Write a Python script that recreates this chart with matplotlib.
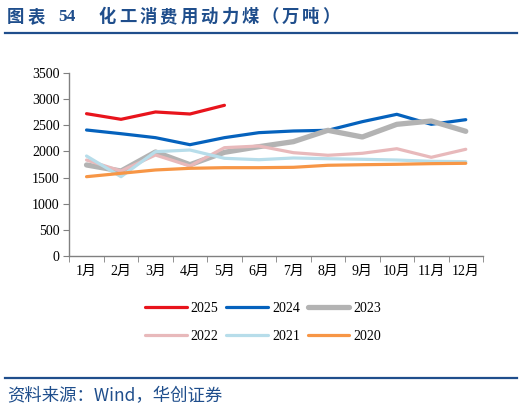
import matplotlib
matplotlib.use("Agg")
import matplotlib.pyplot as plt
from matplotlib.lines import Line2D

# 化工消费用动力煤（万吨）, monthly values
months = ["1月", "2月", "3月", "4月", "5月", "6月", "7月", "8月", "9月", "10月", "11月", "12月"]
y2025 = [2725, 2617, 2758, 2719, 2886]
y2024 = [2412, 2341, 2265, 2130, 2265, 2361, 2393, 2406, 2572, 2713, 2521, 2610]
y2023 = [1741, 1625, 1990, 1746, 1984, 2092, 2188, 2406, 2278, 2521, 2585, 2387]
y2022 = [1836, 1625, 1932, 1721, 2073, 2105, 1977, 1927, 1965, 2053, 1888, 2042]
y2021 = [1913, 1516, 1996, 2028, 1869, 1842, 1875, 1861, 1850, 1836, 1811, 1804]
y2020 = [1516, 1581, 1645, 1677, 1689, 1689, 1696, 1735, 1746, 1754, 1766, 1773]

series = [
    ("2025", y2025, "#E8141C", 2.3),
    ("2024", y2024, "#0562BD", 2.3),
    ("2023", y2023, "#B3B3B3", 3.8),
    ("2022", y2022, "#E8B9BB", 2.3),
    ("2021", y2021, "#B7DDEA", 2.3),
    ("2020", y2020, "#F79646", 2.3),
]

serif = ["Liberation Serif", "Noto Sans CJK SC"]
cjk = ["Noto Sans CJK SC", "DejaVu Sans"]
navy = "#1F4E8C"

fig = plt.figure(figsize=(5.24, 4.13), dpi=100)
ax = fig.add_axes([69.3 / 524, 1 - 255.7 / 413, (483 - 69.3) / 524, (255.7 - 73.3) / 413])

for i, (name, vals, color, lw) in enumerate(series):
    ax.plot(range(len(vals)), vals, color=color, lw=lw, solid_capstyle="round",
            solid_joinstyle="round", zorder=2 + i)

ax.set_xlim(-0.5, 11.5)
ax.set_ylim(0, 3500)
ax.set_yticks(range(0, 3501, 500))
ax.set_xticks(range(12))
ax.set_xticklabels(months)
ax.set_xticks([i + 0.5 for i in range(-1, 12)], minor=True)
ax.tick_params(axis="x", which="major", length=0, pad=7)
ax.tick_params(axis="x", which="minor", length=4, color="#808080", direction="out")
ax.tick_params(axis="y", length=4, color="#808080", direction="out", pad=3)
for lab in ax.get_xticklabels() + ax.get_yticklabels():
    lab.set_family(serif)
    lab.set_fontsize(10)
for s in ["top", "right"]:
    ax.spines[s].set_visible(False)
for s in ["left", "bottom"]:
    ax.spines[s].set_color("#808080")
    ax.spines[s].set_linewidth(1.0)

# legend filled row by row (matplotlib fills columns first, so reorder)
handles = [Line2D([0], [0], color=c, lw=lw, solid_capstyle="round") for _, _, c, lw in series]
labels = [n for n, _, _, _ in series]
order = [0, 3, 1, 4, 2, 5]
leg = fig.legend([handles[i] for i in order], [labels[i] for i in order], ncol=3, loc="center",
                 bbox_to_anchor=(263 / 524, 1 - 322.5 / 413),
                 frameon=False, prop={"family": serif, "size": 10}, handlelength=3.0,
                 columnspacing=0.55, handletextpad=0.3, labelspacing=1.1)

# header: characters spaced out as in the reference
title_a = "图表"
title_b = "54"
title_c = "化工消费用动力煤（万吨）"
ty = 1 - 17 / 413
for k, ch in enumerate(title_a):
    fig.text((7 + 20.3 * k) / 524, ty, ch, color=navy, fontsize=12.5, fontweight="bold",
             family=cjk, va="center")
fig.text(58 / 524, ty, title_b, color=navy, fontsize=12.5, fontweight="bold",
         family=["Liberation Serif"], va="center")
for k, ch in enumerate(title_c):
    fig.text((99 + 20.3 * k) / 524, ty, ch, color=navy, fontsize=12.5, fontweight="bold",
             family=cjk, va="center")
fig.add_artist(Line2D([5 / 524, 517 / 524], [1 - 33 / 413, 1 - 33 / 413], color=navy, lw=1.6))
fig.add_artist(Line2D([5 / 524, 517 / 524], [1 - 378 / 413, 1 - 378 / 413], color=navy, lw=1.6))
fig.text(7 / 524, 1 - 396 / 413, "资料来源：Wind，华创证券", color=navy, fontsize=12.5,
         style="italic", family=cjk, va="center")

fig.savefig("out.png", dpi=100)
